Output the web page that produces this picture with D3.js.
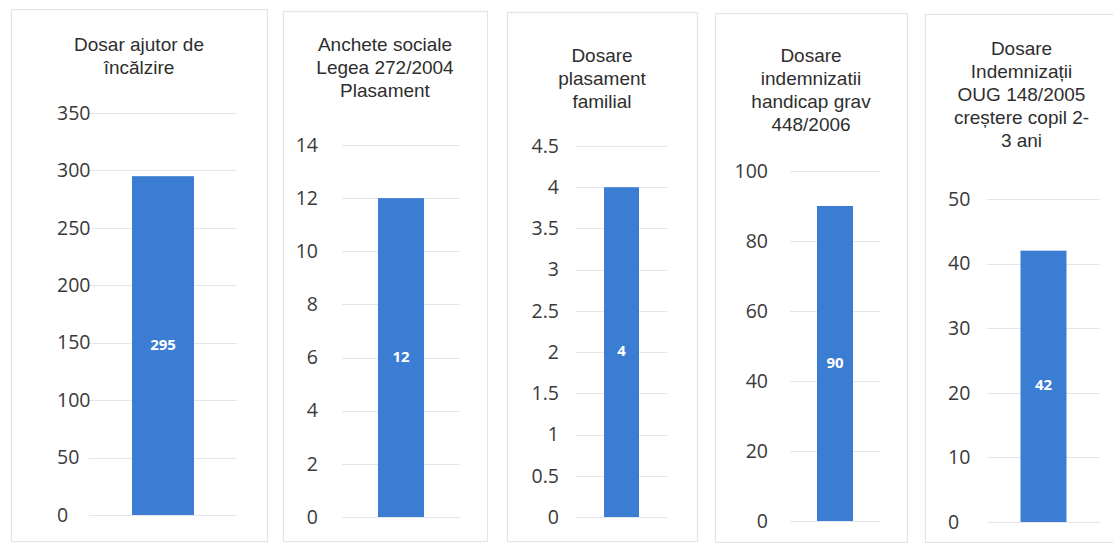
<!DOCTYPE html>
<html>
<head>
<meta charset="utf-8">
<script src="https://cdn.jsdelivr.net/npm/d3@7"></script>
<style>
  html, body { margin: 0; padding: 0; background: #ffffff; }
  svg { display: block; }
</style>
</head>
<body>
<svg id="chart" width="1113" height="544"></svg>
<script>
// ---- data ----
const titles = [
  ["Dosar ajutor de", "încălzire"],
  ["Anchete sociale", "Legea 272/2004", "Plasament"],
  ["Dosare", "plasament", "familial"],
  ["Dosare", "indemnizatii", "handicap grav", "448/2006"],
  ["Dosare", "Indemnizații", "OUG 148/2005", "creștere copil 2-", "3 ani"]
];
const values = [295, 12, 4, 90, 42];
const axisMax = [350, 14, 4.5, 100, 50];
const tickValues = [
  [0, 50, 100, 150, 200, 250, 300, 350],
  [0, 2, 4, 6, 8, 10, 12, 14],
  [0, 0.5, 1, 1.5, 2, 2.5, 3, 3.5, 4, 4.5],
  [0, 20, 40, 60, 80, 100],
  [0, 10, 20, 30, 40, 50]
];
const tickLabels = [
  ["0", "50", "100", "150", "200", "250", "300", "350"],
  ["0", "2", "4", "6", "8", "10", "12", "14"],
  ["0", "0.5", "1", "1.5", "2", "2.5", "3", "3.5", "4", "4.5"],
  ["0", "20", "40", "60", "80", "100"],
  ["0", "10", "20", "30", "40", "50"]
];

// ---- layout (positions / sizes) ----
// lx: x of tick labels; anchor: their alignment
const layout = [
  { fx0: 11,  fx1: 267,  fy0: 9,  fy1: 541, titleY: 46, lx: 57,  anchor: "start", gx0: 89,  gx1: 237,  bw: 62, top: 113, base: 515 },
  { fx0: 283, fx1: 487,  fy0: 11, fy1: 541, titleY: 46, lx: 318, anchor: "end",   gx0: 342, gx1: 460,  bw: 46, top: 145, base: 517 },
  { fx0: 507, fx1: 697,  fy0: 12, fy1: 541, titleY: 57, lx: 559, anchor: "end",   gx0: 576, gx1: 667,  bw: 35, top: 146, base: 517 },
  { fx0: 715, fx1: 907,  fy0: 13, fy1: 542, titleY: 57, lx: 768, anchor: "end",   gx0: 790, gx1: 880,  bw: 36, top: 171, base: 521 },
  { fx0: 925, fx1: 1118, fy0: 14, fy1: 542, titleY: 50, lx: 948, anchor: "start", gx0: 987, gx1: 1100, bw: 46, top: 199, base: 522 }
];

const TITLE_FONT = "'Liberation Sans', Arial, sans-serif";
const FONT = "'Open Sans', 'Noto Sans', sans-serif";
const svg = d3.select("#chart");

layout.forEach((L, i) => {
  const g = svg.append("g");

  // chart frame
  g.append("rect")
    .attr("x", L.fx0 + 0.5).attr("y", L.fy0 + 0.5)
    .attr("width", L.fx1 - L.fx0).attr("height", L.fy1 - L.fy0)
    .attr("fill", "#ffffff").attr("stroke", "#e3e3ec").attr("stroke-width", 1.2);

  // title: one text element per line
  const tcx = (L.fx0 + L.fx1) / 2;
  g.append("g").selectAll("text").data(titles[i]).join("text")
    .attr("x", tcx).attr("y", (d, k) => L.titleY + k * 23)
    .attr("text-anchor", "middle").attr("dominant-baseline", "middle")
    .attr("font-family", TITLE_FONT).attr("font-size", 19).attr("fill", "#2e2e2e")
    .text(d => d);

  // scales
  const y = d3.scaleLinear().domain([0, axisMax[i]]).range([L.base, L.top]);
  const x = d3.scaleBand().domain(["v"]).range([L.gx0, L.gx1]).paddingInner(0).paddingOuter(0);

  // gridlines
  g.append("g").selectAll("line").data(tickValues[i]).join("line")
    .attr("x1", L.gx0).attr("x2", L.gx1)
    .attr("y1", d => Math.round(y(d)) + 0.5).attr("y2", d => Math.round(y(d)) + 0.5)
    .attr("stroke", "#e4e4ec").attr("stroke-width", 1);

  // y axis labels
  const axis = d3.axisLeft(y).tickValues(tickValues[i]).tickSize(0).tickPadding(0)
    .tickFormat((d, k) => tickLabels[i][k]);
  const ag = g.append("g").attr("transform", `translate(${L.lx},0)`).call(axis);
  ag.select(".domain").remove();
  ag.selectAll("text")
    .attr("text-anchor", L.anchor)
    .attr("font-family", FONT).attr("font-size", 19.5).attr("fill", "#3a3a3a");

  // bar
  const cx = x("v") + x.bandwidth() / 2;
  g.append("rect")
    .attr("x", cx - L.bw / 2).attr("width", L.bw)
    .attr("y", y(values[i])).attr("height", y(0) - y(values[i]))
    .attr("fill", "#3b7dd3");

  // value label
  g.append("text")
    .attr("x", cx).attr("y", (y(values[i]) + y(0)) / 2)
    .attr("text-anchor", "middle").attr("dominant-baseline", "middle")
    .attr("font-family", FONT).attr("font-size", 15).attr("font-weight", 700)
    .attr("fill", "#ffffff").text(values[i]);
});
</script>
</body>
</html>
